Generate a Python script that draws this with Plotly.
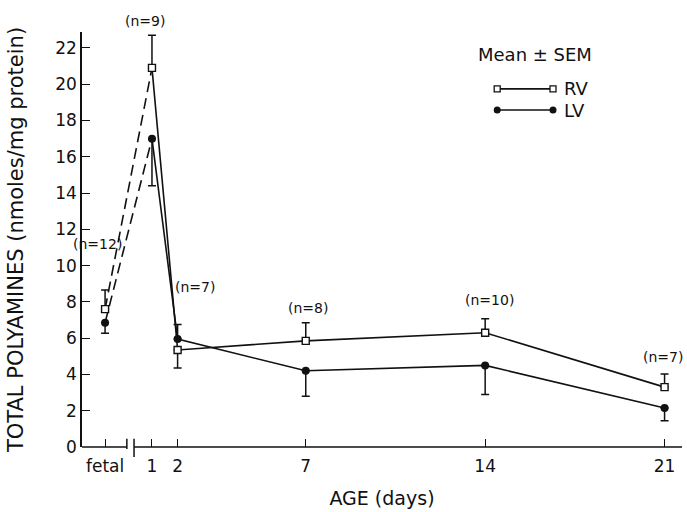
import plotly.graph_objects as go

# Ages (days); "fetal" sits left of the axis break
ages = ["fetal", 1, 2, 7, 14, 21]
tick_labels = ["fetal", "1", "2", "7", "14", "21"]

# Total polyamines, nmoles/mg protein (mean and SEM)
rv_mean = [7.6, 20.9, 5.35, 5.85, 6.3, 3.3]
rv_sem = [1.05, 1.8, 1.0, 1.0, 0.77, 0.72]
rv_bar_side = ["up", "up", "down", "up", "up", "up"]

lv_mean = [6.85, 17.0, 5.95, 4.2, 4.5, 2.15]
lv_sem = [0.58, 2.6, 0.8, 1.4, 1.6, 0.7]
lv_bar_side = ["down", "down", "up", "down", "down", "down"]

n_labels = ["(n=12)", "(n=9)", "(n=7)", "(n=8)", "(n=10)", "(n=7)"]

# ---- layout constants ----
FETAL_POS = -0.83
X_RANGE = [-1.73, 21.68]
Y_RANGE = [0, 22.88]
BREAK_LO, BREAK_HI = 0.02, 0.30
FONT = "DejaVu Sans"
INK = "#111111"

xpos = [FETAL_POS if a == "fetal" else a for a in ages]


def xp(x):
    return (x - X_RANGE[0]) / (X_RANGE[1] - X_RANGE[0])


def yp(y):
    return (y - Y_RANGE[0]) / (Y_RANGE[1] - Y_RANGE[0])


def split_err(sem, side):
    up = [s if d == "up" else 0 for s, d in zip(sem, side)]
    down = [s if d == "down" else 0 for s, d in zip(sem, side)]
    return up, down


fig = go.Figure()

rv_marker = dict(symbol="square", size=7, color="white", line=dict(width=1.4, color=INK))
lv_marker = dict(symbol="circle", size=8, color=INK)

for name, mean, sem, side, marker in [("RV", rv_mean, rv_sem, rv_bar_side, rv_marker),
                                      ("LV", lv_mean, lv_sem, lv_bar_side, lv_marker)]:
    up, down = split_err(sem, side)
    # fetal -> day 1 segment, dashed
    fig.add_trace(go.Scatter(
        x=xpos[:2], y=mean[:2], mode="lines",
        line=dict(color=INK, width=1.6, dash="11px,6px"),
        showlegend=False, hoverinfo="skip", cliponaxis=False))
    # postnatal course, solid
    fig.add_trace(go.Scatter(
        x=xpos[1:], y=mean[1:], mode="lines",
        line=dict(color=INK, width=1.6),
        showlegend=False, cliponaxis=False))
    # points with one-sided SEM bars
    fig.add_trace(go.Scatter(
        x=xpos, y=mean, mode="markers", name=name, marker=marker,
        error_y=dict(type="data", symmetric=False, array=up, arrayminus=down,
                     color=INK, thickness=1.5, width=4),
        showlegend=False, cliponaxis=False))

# n annotations (position per label, in data units)
n_pos = [(-1.11, 11.2), (0.72, 23.5), (2.67, 8.8), (7.09, 7.66), (14.15, 8.1), (20.95, 4.96)]
for txt, (ax, ay) in zip(n_labels, n_pos):
    fig.add_annotation(x=xp(ax), y=yp(ay), xref="paper", yref="paper", text=txt,
                       xanchor="center", yanchor="middle",
                       showarrow=False, font=dict(family=FONT, size=14, color=INK))

# legend drawn by hand on an overlay axis spanning the plot area in paper units
leg_rows = [("RV", 0.863, dict(symbol="square", size=6, color="white", line=dict(width=1.3, color=INK))),
            ("LV", 0.812, dict(symbol="circle", size=7, color=INK))]
for label, py, mk in leg_rows:
    fig.add_trace(go.Scatter(
        x=[0.692, 0.785], y=[py, py], mode="lines+markers",
        line=dict(color=INK, width=1.6), marker=mk,
        xaxis="x2", yaxis="y2", showlegend=False, hoverinfo="skip", cliponaxis=False))
    fig.add_annotation(x=0.8, y=py, xref="paper", yref="paper", text=label,
                       showarrow=False, xanchor="left", yanchor="middle",
                       font=dict(family=FONT, size=18, color=INK))
fig.add_annotation(x=0.755, y=0.945, xref="paper", yref="paper", text="Mean ± SEM",
                   showarrow=False, xanchor="center", yanchor="middle",
                   font=dict(family=FONT, size=18, color=INK))

# x axis line with a break between fetal and day 1
shapes = [
    dict(type="line", xref="paper", yref="paper", x0=0, x1=xp(BREAK_LO), y0=0, y1=0,
         line=dict(color=INK, width=1.6)),
    dict(type="line", xref="paper", yref="paper", x0=xp(BREAK_HI), x1=1, y0=0, y1=0,
         line=dict(color=INK, width=1.6)),
    dict(type="line", xref="paper", yref="paper", x0=xp(BREAK_LO), x1=xp(BREAK_LO),
         y0=-0.005, y1=0.02, line=dict(color=INK, width=1.5)),
    dict(type="line", xref="paper", yref="paper", x0=xp(BREAK_HI), x1=xp(BREAK_HI),
         y0=-0.024, y1=0.02, line=dict(color=INK, width=1.5)),
]

fig.update_layout(
    width=687, height=512,
    margin=dict(l=82, r=5, t=32, b=65),
    paper_bgcolor="white", plot_bgcolor="white",
    font=dict(family=FONT, color=INK),
    showlegend=False,
    shapes=shapes,
    xaxis=dict(
        range=X_RANGE, tickvals=xpos, ticktext=tick_labels,
        ticks="inside", ticklen=8, tickwidth=1.4, tickcolor=INK,
        showline=False, showgrid=False, zeroline=False,
        ticklabelstandoff=7,
        tickfont=dict(family=FONT, size=17, color=INK),
        title=dict(text="AGE (days)", font=dict(family=FONT, size=19, color=INK), standoff=16),
    ),
    yaxis=dict(
        range=Y_RANGE, tickvals=list(range(0, 23, 2)),
        ticks="inside", ticklen=8, tickwidth=1.4, tickcolor=INK,
        showline=True, linecolor=INK, linewidth=1.6,
        showgrid=False, zeroline=False,
        tickfont=dict(family=FONT, size=17, color=INK),
        title=dict(text="TOTAL POLYAMINES (nmoles/mg protein)",
                   font=dict(family=FONT, size=21, color=INK), standoff=26),
    ),
    xaxis2=dict(overlaying="x", range=[0, 1], visible=False),
    yaxis2=dict(overlaying="y", range=[0, 1], visible=False),
)

fig.write_html("out.html")
